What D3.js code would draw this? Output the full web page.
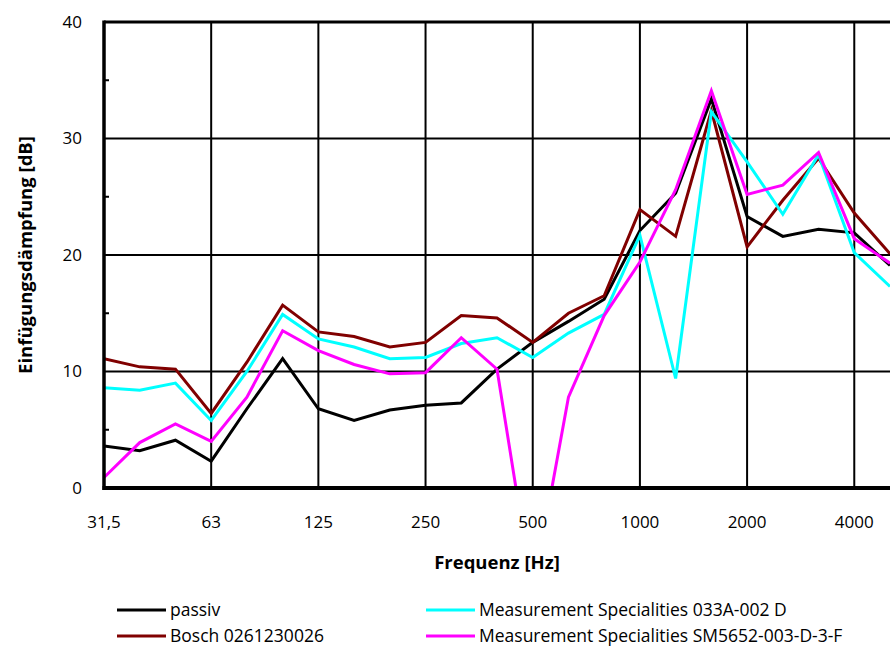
<!DOCTYPE html>
<html>
<head>
<meta charset="utf-8">
<script src="https://cdn.jsdelivr.net/npm/d3@7"></script>
<style>
    body { margin: 0; background: #fff; }
    text { font-family: "Open Sans", "Noto Sans", sans-serif; fill: #000; }
    .tick-label { font-size: 17px; }
    .axis-title { font-size: 18.5px; font-weight: bold; }
    .legend-label { font-size: 17.5px; }
</style>
</head>
<body>
<div class="graphic"></div>
<script>
// third-octave bands (category axis)
const freqs = ["31,5", "40", "50", "63", "80", "100", "125", "160", "200", "250", "315", "400",
    "500", "630", "800", "1000", "1250", "1600", "2000", "2500", "3150", "4000", "5000"]
const xLabels = ["31,5", "63", "125", "250", "500", "1000", "2000", "4000"]
const yTicks = [0, 10, 20, 30, 40]

const passiv = [3.6, 3.2, 4.1, 2.3, 6.8, 11.1, 6.8, 5.8, 6.7, 7.1, 7.3, 10.2,
    12.5, 14.3, 16.2, 22.1, 25.3, 33.4, 23.3, 21.6, 22.2, 21.9, 19.1]
const bosch = [11.1, 10.4, 10.2, 6.4, 10.8, 15.7, 13.4, 13.0, 12.1, 12.5, 14.8, 14.6,
    12.5, 15.0, 16.5, 23.9, 21.6, 32.4, 20.7, 24.7, 28.3, 23.6, 20.1]
const ms033 = [8.6, 8.4, 9.0, 5.8, 10.0, 14.9, 12.8, 12.1, 11.1, 11.2, 12.4, 12.9,
    11.2, 13.3, 14.9, 21.7, 9.4, 32.3, 28.0, 23.5, 28.6, 20.2, 17.3]
const ms5652 = [0.9, 3.9, 5.5, 4.0, 7.8, 13.5, 11.8, 10.6, 9.8, 9.9, 12.9, 10.2,
    -9.0, 7.8, 14.8, 19.4, 25.6, 34.1, 25.2, 26.0, 28.8, 21.4, 19.3]

const seriesNames = ["passiv", "Bosch 0261230026", "Measurement Specialities 033A-002 D", "Measurement Specialities SM5652-003-D-3-F"]
const seriesColors = ["#000000", "#800000", "#00ffff", "#ff00ff"]

const width = 890
const height = 648
const plotLeft = 104, plotRight = 890, plotTop = 22, plotBottom = 488

const svg = d3.select(".graphic").append("svg")
    .attr("width", width)
    .attr("height", height)

var x = d3.scalePoint()
    .domain(freqs)
    .range([plotLeft, plotRight])

var y = d3.scaleLinear()
    .domain([0, 40])
    .range([plotBottom, plotTop])

svg.append("clipPath")
    .attr("id", "plot-clip")
    .append("rect")
    .attr("x", plotLeft)
    .attr("y", plotTop)
    .attr("width", plotRight - plotLeft)
    .attr("height", plotBottom - plotTop)

// grid
svg.selectAll(".hgrid")
    .data(yTicks.filter(d => d > 0 && d < 40))
    .enter().append("line")
    .attr("x1", plotLeft).attr("x2", plotRight)
    .attr("y1", d => y(d)).attr("y2", d => y(d))
    .attr("stroke", "#000").attr("stroke-width", 2)

svg.selectAll(".vgrid")
    .data(xLabels.slice(1))
    .enter().append("line")
    .attr("x1", d => x(d)).attr("x2", d => x(d))
    .attr("y1", plotTop).attr("y2", plotBottom)
    .attr("stroke", "#000").attr("stroke-width", 2)

// minor ticks on the value axis (inside)
svg.selectAll(".minor")
    .data([5, 15, 25, 35])
    .enter().append("line")
    .attr("x1", plotLeft).attr("x2", plotLeft + 5)
    .attr("y1", d => y(d)).attr("y2", d => y(d))
    .attr("stroke", "#000").attr("stroke-width", 2)

// top border
svg.append("line")
    .attr("x1", plotLeft).attr("x2", plotRight).attr("y1", y(40)).attr("y2", y(40))
    .attr("stroke", "#000").attr("stroke-width", 3)

// series
var line = d3.line()
    .x((d, i) => x(freqs[i]))
    .y(d => y(d))

var allSeries = [passiv, bosch, ms033, ms5652]
var plot = svg.append("g").attr("clip-path", "url(#plot-clip)")
allSeries.forEach(function(s, i){
    plot.append("path")
        .datum(s)
        .attr("d", line)
        .attr("fill", "none")
        .attr("stroke", seriesColors[i])
        .attr("stroke-width", 3)
        .attr("stroke-linejoin", "miter")
})

// axis lines
svg.append("line")
    .attr("x1", plotLeft).attr("x2", plotLeft).attr("y1", plotTop - 1.5).attr("y2", plotBottom + 2)
    .attr("stroke", "#000").attr("stroke-width", 3.5)
svg.append("line")
    .attr("x1", plotLeft - 1.5).attr("x2", plotRight).attr("y1", plotBottom).attr("y2", plotBottom)
    .attr("stroke", "#000").attr("stroke-width", 4)

// tick labels
svg.selectAll(".ylab")
    .data(yTicks)
    .enter().append("text")
    .attr("class", "tick-label")
    .attr("x", 82)
    .attr("y", d => y(d))
    .attr("dy", "0.35em")
    .attr("text-anchor", "end")
    .text(d => d)

svg.selectAll(".xlab")
    .data(xLabels)
    .enter().append("text")
    .attr("class", "tick-label")
    .attr("x", d => x(d))
    .attr("y", 528)
    .attr("text-anchor", "middle")
    .text(d => d)

svg.append("text")
    .attr("class", "axis-title")
    .attr("x", 497)
    .attr("y", 569)
    .attr("text-anchor", "middle")
    .text("Frequenz [Hz]")

svg.append("text")
    .attr("class", "axis-title")
    .attr("transform", "translate(32,255) rotate(-90)")
    .attr("text-anchor", "middle")
    .text("Einfügungsdämpfung [dB]")

// legend, two columns
var legendPos = [[117, 610], [117, 636], [426, 610], [426, 636]]
seriesNames.forEach(function(name, i){
    var p = legendPos[i]
    svg.append("line")
        .attr("x1", p[0]).attr("x2", p[0] + 49)
        .attr("y1", p[1]).attr("y2", p[1])
        .attr("stroke", seriesColors[i])
        .attr("stroke-width", 3)
    svg.append("text")
        .attr("class", "legend-label")
        .attr("x", p[0] + 53)
        .attr("y", p[1])
        .attr("dy", "0.35em")
        .text(name)
})
</script>
</body>
</html>
